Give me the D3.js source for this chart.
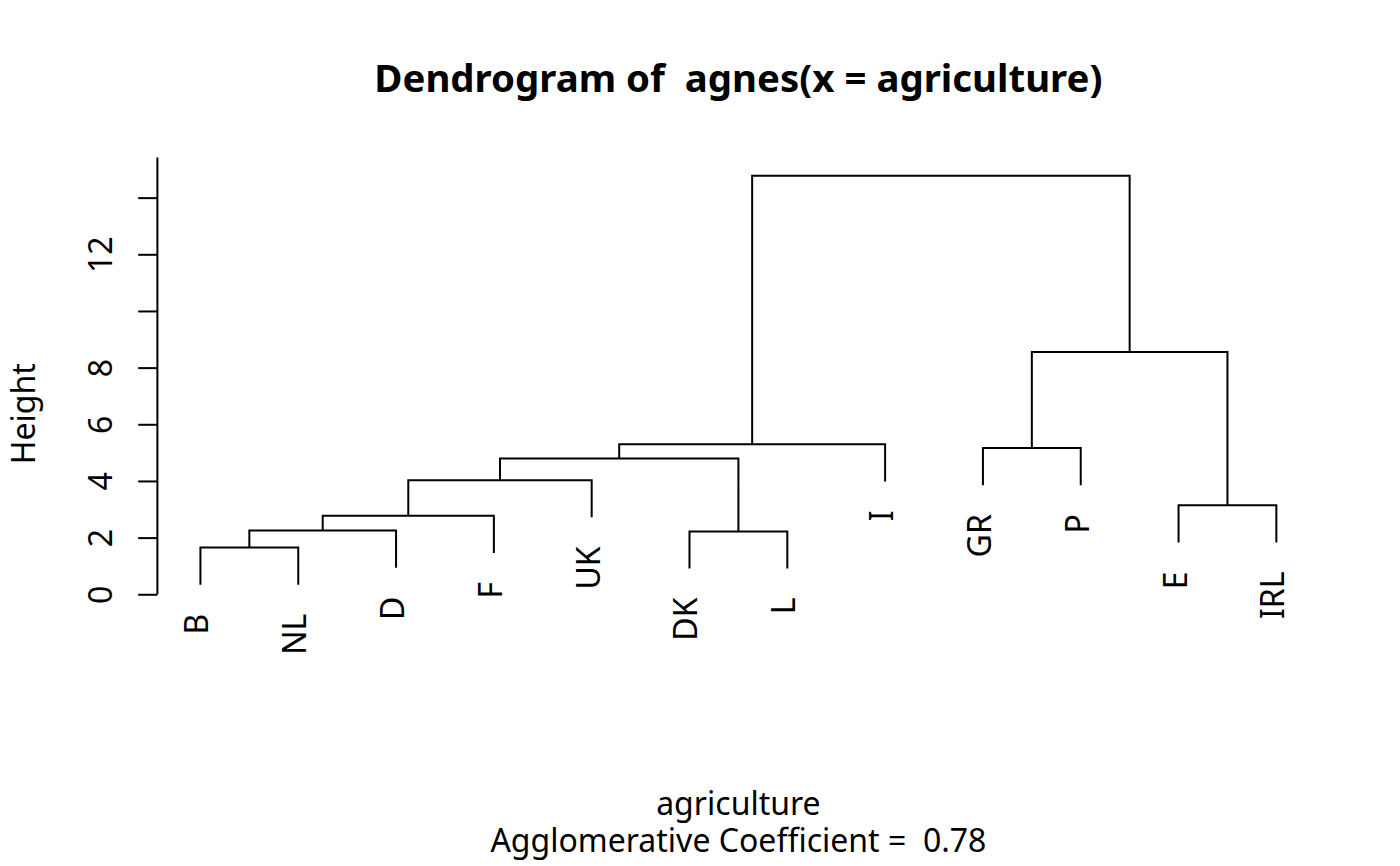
<!DOCTYPE html>
<html>
<head>
<meta charset="utf-8">
<script src="https://cdn.jsdelivr.net/npm/d3@7"></script>
<style>
  html, body { margin: 0; padding: 0; background: #fff; }
  svg { display: block; }
  text { font-family: "Noto Sans", "Open Sans", sans-serif; fill: #000; white-space: pre; }
</style>
</head>
<body>
<svg id="chart" width="1400" height="866"></svg>
<script>
// ---- data (agnes(agriculture), average linkage) ----
const countries = ["B","DK","D","GR","E","F","IRL","I","L","NL","P","UK"];
// R-style merge matrix: negative = leaf (1-based index into countries), positive = earlier merge step
const mergeLeft   = [-1, -2, 1, 3, -5, 4, 6, -4, 7, 8, 9];
const mergeRight  = [-10, -9, -3, -6, -7, -12, 2, -11, -8, 5, 10];
const mergeHeight = [1.649, 2.220, 2.249, 2.769, 3.140, 4.027, 4.788, 5.162, 5.294, 8.551, 14.77];
const yTicks = [0, 2, 4, 6, 8, 10, 12, 14];
const yTickLabels = ["0", "2", "4", "6", "8", "", "12", ""];
const titleText = "Dendrogram of  agnes(x = agriculture)";
const xLabelLines = ["agriculture", "Agglomerative Coefficient =  0.78"];
const yLabelText = "Height";
const hangFrac = 0.1;

// ---- layout ----
const W = 1400, H = 866;
const plot = { left: 157.4, right: 1319.4, top: 157.4, bottom: 670.2 };
const n = countries.length;

// leaf order by traversing from the last merge
function order(step) {
  const out = [];
  (function walk(k) {
    if (k < 0) { out.push(-k - 1); return; }
    walk(mergeLeft[k - 1]); walk(mergeRight[k - 1]);
  })(step);
  return out;
}
const leafOrder = order(mergeHeight.length);
const leafPos = {};
leafOrder.forEach((li, i) => leafPos[li] = i + 1);

const x = d3.scaleLinear().domain([0.56, n + 0.44]).range([plot.left, plot.right]);
const y = d3.scaleLinear().domain([-2.68, 15.42]).range([plot.bottom, plot.top]);

const hang = hangFrac * (d3.max(mergeHeight) - d3.min(mergeHeight));

const svg = d3.select("#chart");

// node positions
const nodeX = [], nodeH = [];
function childX(k) { return k < 0 ? leafPos[-k - 1] : nodeX[k - 1]; }
mergeHeight.forEach((h, i) => {
  nodeX[i] = (childX(mergeLeft[i]) + childX(mergeRight[i])) / 2;
  nodeH[i] = h;
});

const leafBottoms = {};
const segs = [];
mergeHeight.forEach((h, i) => {
  const a = mergeLeft[i], b = mergeRight[i];
  const xa = childX(a), xb = childX(b);
  const ha = a < 0 ? h - hang : nodeH[a - 1];
  const hb = b < 0 ? h - hang : nodeH[b - 1];
  if (a < 0) leafBottoms[-a - 1] = ha;
  if (b < 0) leafBottoms[-b - 1] = hb;
  segs.push([[xa, ha], [xa, h], [xb, h], [xb, hb]]);
});

const line = d3.line().x(d => x(d[0])).y(d => y(d[1]));
svg.append("g").selectAll("path").data(segs).join("path")
  .attr("d", line)
  .attr("fill", "none")
  .attr("stroke", "#000")
  .attr("stroke-width", 2)
  .attr("stroke-linejoin", "miter")
  .attr("stroke-linecap", "butt");

// leaf labels
svg.append("g").selectAll("text").data(leafOrder).join("text")
  .attr("transform", d => `translate(${x(leafPos[d]) + 8},${y(leafBottoms[d]) + 29}) rotate(-90)`)
  .attr("text-anchor", "end")
  .attr("font-size", 32)
  .text(d => countries[d]);

// y axis
const axis = d3.axisLeft(y).tickValues(yTicks).tickSize(19.2).tickSizeOuter(0)
  .tickFormat((d, i) => yTickLabels[i]);
const gAxis = svg.append("g").attr("transform", `translate(${plot.left},0)`).call(axis);
gAxis.select(".domain").remove();
gAxis.selectAll(".tick line").attr("stroke", "#000").attr("stroke-width", 2);
gAxis.selectAll(".tick text")
  .attr("x", null).attr("dy", null).attr("y", null)
  .attr("transform", "translate(-45.7,0) rotate(-90)")
  .attr("text-anchor", "middle")
  .attr("font-size", 32)
  .attr("font-family", "Noto Sans")
  .attr("fill", "#000");
gAxis.append("line")
  .attr("x1", 0).attr("x2", 0)
  .attr("y1", y(0)).attr("y2", y.range()[1])
  .attr("stroke", "#000").attr("stroke-width", 2);

// title
svg.append("text")
  .attr("x", (plot.left + plot.right) / 2).attr("y", 92)
  .attr("text-anchor", "middle")
  .attr("font-size", 38.4).attr("font-weight", "bold")
  .text(titleText);

// x label (two lines)
svg.append("g").selectAll("text").data(xLabelLines).join("text")
  .attr("x", (plot.left + plot.right) / 2)
  .attr("y", (d, i) => 815 + i * 37)
  .attr("text-anchor", "middle")
  .attr("font-size", 32)
  .text(d => d);

// y label
svg.append("text")
  .attr("transform", `translate(35,${(plot.top + plot.bottom) / 2}) rotate(-90)`)
  .attr("text-anchor", "middle")
  .attr("font-size", 32)
  .text(yLabelText);
</script>
</body>
</html>
